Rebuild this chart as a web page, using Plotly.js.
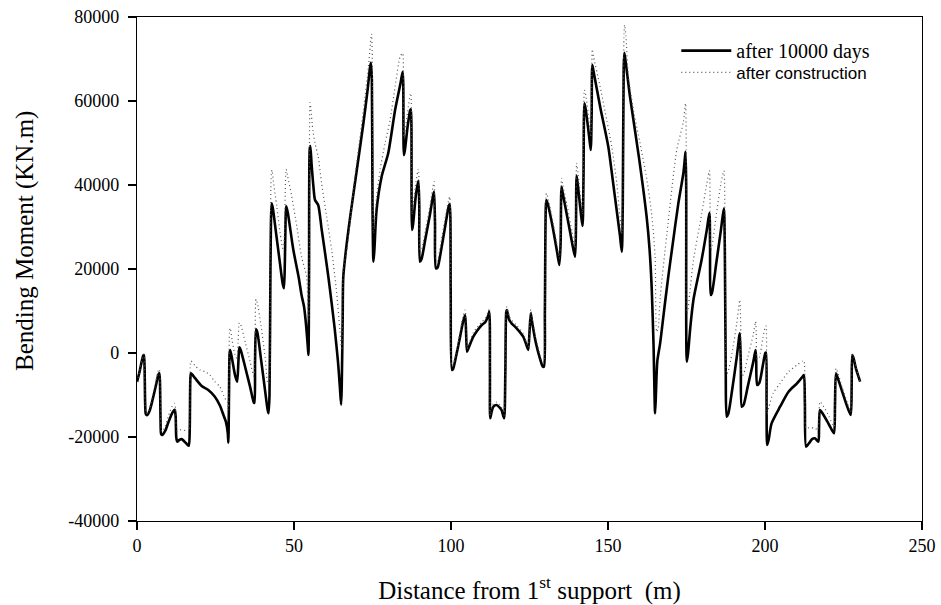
<!DOCTYPE html>
<html>
<head>
<meta charset="utf-8">
<script src="https://cdn.plot.ly/plotly-3.0.1.min.js"></script>
<style>
html,body{margin:0;padding:0;background:#fff;}
#chart{width:941px;height:605px;}
</style>
</head>
<body>
<div id="chart"></div>
<script>
// ---- data ----
var seriesNames = ['after 10000 days', 'after construction'];
var xAxisTitle = 'Distance from 1<sup>st</sup> support  (m)';
var yAxisTitle = 'Bending Moment (KN.m)';

var xLongTerm = [
0,0.8,1.5,2.0,2.2,2.4,2.6,2.8,3.2,4.0,5.0,6.0,6.8,7.1,7.3,7.5,7.7,8.1,9.0,10.0,11.2,12.0,12.3,12.5,12.8,13.5,14.2,15.0,16.0,16.5,16.8,17.0,17.2,
18.5,20.6,22.7,24.8,26.4,27.5,28.3,28.9,29.1,29.3,29.5,29.7,30.3,31.2,31.9,32.3,32.6,33.0,34.5,36.0,37.2,37.4,37.6,37.9,38.3,39.5,40.8,41.6,41.9,42.2,42.5,42.9,
43.3,44.3,45.5,46.4,46.8,47.1,47.3,47.5,48.0,49.8,51.5,52.4,53.2,53.8,54.4,54.6,54.8,55.0,55.2,55.6,56.2,56.7,57.7,58.8,59.9,61.0,62.0,63.0,64.0,64.6,65.0,65.2,65.5,65.7,
66.8,68.0,70.0,72.1,73.5,74.2,74.5,74.8,75.0,75.3,75.6,76.3,77.9,80.0,82.2,84.0,84.6,84.8,85.0,85.3,86.2,87.0,87.2,87.4,87.6,87.9,88.8,89.6,89.9,90.1,90.6,91.8,93.3,94.3,94.6,94.9,95.2,95.7,96.5,98.0,99.3,99.6,99.9,
100.3,100.7,101.5,102.8,103.8,104.5,104.8,105.1,105.5,107.1,108.5,109.8,111.0,111.8,112.2,112.4,112.5,113.0,113.5,114.5,115.5,116.1,116.9,117.3,117.6,117.8,118.5,119.3,120.9,123.0,124.2,124.6,125.0,125.4,125.8,127.0,128.4,129.2,129.6,129.9,
130.2,130.4,131.0,132.5,133.8,134.5,134.9,135.2,135.6,137.0,138.5,139.5,139.8,140.0,140.4,141.4,141.9,142.2,142.5,142.9,144.0,144.5,144.8,145.0,145.4,147.5,150.1,151.2,152.2,153.8,154.4,154.7,155.0,155.2,155.6,157.0,159.9,162.3,163.2,163.9,164.5,165.0,165.3,165.7,
166.6,168.0,169.2,170.8,172.4,174.0,174.5,174.7,174.9,175.1,175.5,176.2,177.2,179.8,181.5,182.3,182.5,182.7,183.1,184.5,186.0,186.9,187.2,187.5,187.8,188.3,189.5,191.0,191.8,192.0,192.3,192.6,193.2,194.5,196.3,197.0,197.2,197.5,198.2,199.3,200.1,200.3,200.5,200.7,
201.2,202.1,204.8,207.5,210.2,212.0,212.4,212.7,213.1,214.0,215.0,215.9,217.0,217.2,217.5,218.2,220.0,221.5,222.0,222.3,222.6,223.1,224.5,226.3,227.3,227.6,227.8,228.2,229.0,230.3
];
var yLongTerm = [
-6900,-4500,-2000,-600,-500,-3000,-12000,-14500,-14800,-13800,-11000,-7800,-5200,-4850,-6500,-16000,-19300,-19500,-18500,-16500,-14300,-13500,-15000,-20000,-21100,-20700,-20500,-21000,-21800,-22100,-18000,-6000,-4840,
-6000,-7860,-8800,-10400,-12500,-14700,-16350,-19000,-21350,-10000,0,700,-1500,-5200,-6830,-2000,1350,800,-3500,-8000,-11800,-11900,-2000,5640,5000,-1500,-9000,-13500,-14360,-10000,20000,35640,
34300,28500,21500,16500,15400,22000,31000,35000,33500,24520,18000,13800,11000,7000,1500,-480,20000,48500,49300,45000,39500,36430,35240,29500,23740,17800,11830,5500,-2000,-8000,-12300,-8000,8000,18170,
26120,33000,43570,54700,63000,68000,69100,65000,35000,21740,24500,34050,41980,47550,57860,64500,66980,64000,47140,48200,54000,57800,58020,54000,29290,30500,37500,40990,35000,21740,22300,27000,33000,37500,38410,31000,20160,20300,23000,29500,35000,35480,15000,
-4050,-3700,-1200,3500,7300,9050,5000,310,1000,3880,5500,6670,7460,8800,9840,-5000,-15550,-13800,-12790,-12380,-13000,-13570,-15550,-5000,9800,10240,8000,7070,5880,3880,1500,710,5000,9450,7500,2500,-1500,-3200,-3260,10000,
35000,36430,35000,29500,24000,20950,26000,39600,38000,32500,26500,22930,30000,42220,40000,33000,30240,42000,59450,58000,51500,48340,57000,68570,67000,58650,49120,43000,37220,28000,24120,35000,68000,71500,69500,61030,46350,32450,25000,15790,2000,-14360,-9000,-2000,
2300,11000,18170,27000,35640,42790,46500,47930,40000,-2060,0,6000,12620,22140,29500,33410,25000,13810,14300,21500,29500,34450,25000,-5000,-15160,-14500,-9000,-1000,4000,4690,-3000,-12790,-12300,-8000,-2000,710,-2000,-7620,-7100,-3000,0,80,-12000,-21900,
-20500,-16760,-12790,-9210,-7220,-5600,-5240,-12000,-22300,-21500,-20500,-20320,-21110,-18000,-13570,-14200,-16500,-18600,-19120,-12000,-4840,-5800,-9000,-13000,-14760,-8000,-480,-1200,-3800,-6830
];

var xConstruction = [
0,0.8,1.5,2.0,2.2,2.4,2.6,2.8,3.2,4.0,5.0,6.0,6.8,7.1,7.3,7.5,7.7,8.1,9.0,10.0,11.2,12.0,12.3,12.5,12.8,13.5,14.5,15.5,16.5,16.8,17.0,17.2,
18.5,20.1,21.7,23.2,24.8,26.4,28.0,28.8,29.1,29.3,29.5,29.7,30.3,31.2,31.8,32.2,32.6,33.0,34.5,36.0,37.2,37.6,37.9,38.3,39.5,40.8,41.7,42.1,42.4,42.8,43.0,
43.4,44.5,45.6,46.4,46.8,47.2,47.5,48.0,49.3,50.9,52.4,54.0,54.5,54.7,54.9,55.1,55.4,56.0,56.7,57.7,58.8,60.4,62.0,63.6,64.6,65.2,65.5,65.7,
66.8,67.8,68.9,70.5,72.1,73.7,74.5,74.7,74.9,75.1,75.3,75.6,76.3,77.4,79.0,80.6,82.2,83.8,84.6,84.8,85.0,85.3,86.2,87.0,87.2,87.4,87.6,87.9,88.8,89.6,89.9,90.1,90.6,91.8,93.3,94.3,94.6,94.9,95.2,95.7,96.5,98.0,99.3,99.6,99.9,
100.3,100.7,101.5,102.8,103.8,104.5,104.8,105.1,105.5,107.1,108.5,109.8,111.0,111.8,112.2,112.4,112.5,113.0,113.5,114.5,115.5,116.5,116.9,117.3,117.6,117.8,118.5,119.3,120.9,123.0,124.2,124.6,125.0,125.4,125.8,127.0,128.4,129.2,129.6,129.9,
130.2,130.4,131.0,132.5,133.8,134.5,134.9,135.2,135.6,137.0,138.5,139.5,139.8,140.0,140.4,141.4,141.9,142.2,142.5,142.9,144.0,144.5,144.8,145.0,145.4,147.5,149.6,151.2,152.8,153.8,154.5,154.8,155.1,155.3,155.7,156.5,158.1,160.2,162.4,164.0,165.0,165.5,166.0,
166.6,168.7,171.9,174.0,174.7,174.9,175.1,175.4,176.0,177.2,179.8,181.5,182.3,182.5,182.7,183.0,184.5,186.0,186.9,187.2,187.5,187.8,188.2,189.5,191.0,191.8,192.0,192.3,192.6,193.2,194.5,196.3,197.0,197.2,197.5,198.2,199.3,200.1,200.3,200.5,200.7,
201.2,202.6,204.8,207.5,210.2,212.0,212.4,212.7,213.1,214.0,215.9,216.8,217.2,217.5,218.2,220.0,221.5,222.0,222.3,222.6,223.1,224.5,226.3,227.3,227.6,227.8,228.2,229.0,230.3
];
var yConstruction = [
-6900,-4400,-1900,-400,-300,-2800,-11800,-14200,-14400,-13300,-10300,-6800,-4200,-3900,-5500,-15000,-18500,-18700,-17400,-15000,-12700,-12000,-13500,-17500,-18600,-18300,-18300,-18500,-18700,-15000,-2500,-1900,
-3000,-4050,-4450,-5240,-6830,-8020,-10790,-11590,-13500,-5000,5500,5950,3000,-400,-1300,2500,7200,6800,2500,-2000,-5500,3000,12800,12000,6500,-1000,-7300,-7000,20000,43000,43570,
41000,35000,28500,24920,26000,38000,43740,42000,37220,30070,22930,18170,9000,8000,30000,59600,58000,53000,49930,46740,40400,32450,24520,14210,5480,710,8000,19760,
24520,30870,38810,48340,57860,68170,75000,75950,72000,40000,28500,30000,37220,43570,49930,55480,63400,70550,71400,70000,51500,52500,57500,61500,61830,58000,33000,34500,40500,43740,38000,24000,24500,29000,35000,39800,40790,33000,22000,22000,25000,31500,36500,37220,17000,
-3000,-2800,-500,4500,8500,10240,6000,1000,1700,4800,6300,7400,8300,9700,10640,-5000,-14800,-13000,-12100,-11700,-12300,-13600,-14800,-5000,10600,11000,8800,7800,6600,4600,2000,1400,6000,10400,8500,3500,-500,-2200,-2000,10000,
37000,38020,36500,31000,25500,22500,28000,41590,40000,35000,29000,25000,33000,45170,43000,36000,33000,45000,62620,61500,55000,51500,60000,72310,70500,63400,55480,49120,40400,32450,28500,40000,76000,78100,75500,65790,57860,49930,41190,32450,22930,5000,6000,
13000,28000,48340,55000,59450,50000,9500,10000,14000,22000,33000,40500,43400,35000,24520,25000,33000,40500,43400,35000,0,-5000,-4500,0,7000,12000,12620,5000,-5500,-5000,-1000,4500,7460,5000,-1500,-1000,3500,6300,6430,-5000,-14360,
-13000,-9600,-7220,-4450,-2860,-1900,-1830,-8000,-17930,-17800,-17900,-18300,-15000,-11600,-12200,-14500,-17000,-17500,-10000,-3650,-4500,-8000,-12000,-14000,-8000,-300,-900,-3500,-6800
];

var xTickVals = [0, 50, 100, 150, 200, 250];
var xTickText = ['0', '50', '100', '150', '200', '250'];
var yTickVals = [-40000, -20000, 0, 20000, 40000, 60000, 80000];
var yTickText = ['-40000', '-20000', '0', '20000', '40000', '60000', '80000'];

// ---- chart ----
var serif = 'Liberation Serif, Times New Roman, serif';
var sans = 'Liberation Sans, Arial, sans-serif';

var traces = [
  {
    x: xLongTerm, y: yLongTerm, name: seriesNames[0], type: 'scatter', mode: 'lines',
    line: {color: '#000000', width: 2.6, shape: 'spline', smoothing: 0.7},
    legend: 'legend', hoverinfo: 'skip'
  },
  {
    x: xConstruction, y: yConstruction, name: seriesNames[1], type: 'scatter', mode: 'lines',
    line: {color: '#555555', width: 1.2, dash: '1px,3px', shape: 'spline', smoothing: 0.7},
    legend: 'legend2', hoverinfo: 'skip'
  }
];

var layout = {
  width: 941, height: 605,
  margin: {l: 137, r: 19, t: 17, b: 84},
  paper_bgcolor: '#ffffff', plot_bgcolor: '#ffffff',
  font: {family: serif, size: 18, color: '#000000'},
  showlegend: true,
  xaxis: {
    range: [0, 250], tickvals: xTickVals, ticktext: xTickText,
    showgrid: false, zeroline: false, showline: true, mirror: true,
    linecolor: '#000000', linewidth: 1.2,
    ticks: 'outside', ticklen: 8, tickwidth: 1.2, tickcolor: '#000000',
    tickfont: {family: serif, size: 18, color: '#000000'},
    ticklabelstandoff: 0,
    title: {text: xAxisTitle, font: {family: serif, size: 25, color: '#000000'}, standoff: 26}
  },
  yaxis: {
    range: [-40000, 80000], tickvals: yTickVals, ticktext: yTickText,
    showgrid: false, zeroline: false, showline: true, mirror: true,
    linecolor: '#000000', linewidth: 1.2,
    ticks: 'outside', ticklen: 8, tickwidth: 1.2, tickcolor: '#000000',
    tickfont: {family: serif, size: 18, color: '#000000'},
    ticklabelstandoff: 5
  },
  annotations: [{
    text: yAxisTitle, textangle: -90, showarrow: false,
    xref: 'paper', yref: 'paper', x: -0.1427, y: 0.5556,
    xanchor: 'center', yanchor: 'middle',
    font: {family: serif, size: 25, color: '#000000'}
  }],
  legend: {
    x: 0.687, y: 0.972, xanchor: 'left', yanchor: 'top',
    bgcolor: 'rgba(0,0,0,0)', borderwidth: 0,
    font: {family: serif, size: 20, color: '#000000'},
    itemwidth: 50, tracegroupgap: 0
  },
  legend2: {
    x: 0.687, y: 0.925, xanchor: 'left', yanchor: 'top',
    bgcolor: 'rgba(0,0,0,0)', borderwidth: 0,
    font: {family: sans, size: 17, color: '#000000'},
    itemwidth: 50, tracegroupgap: 0
  }
};

Plotly.newPlot('chart', traces, layout, {displayModeBar: false, staticPlot: true});
</script>
</body>
</html>
